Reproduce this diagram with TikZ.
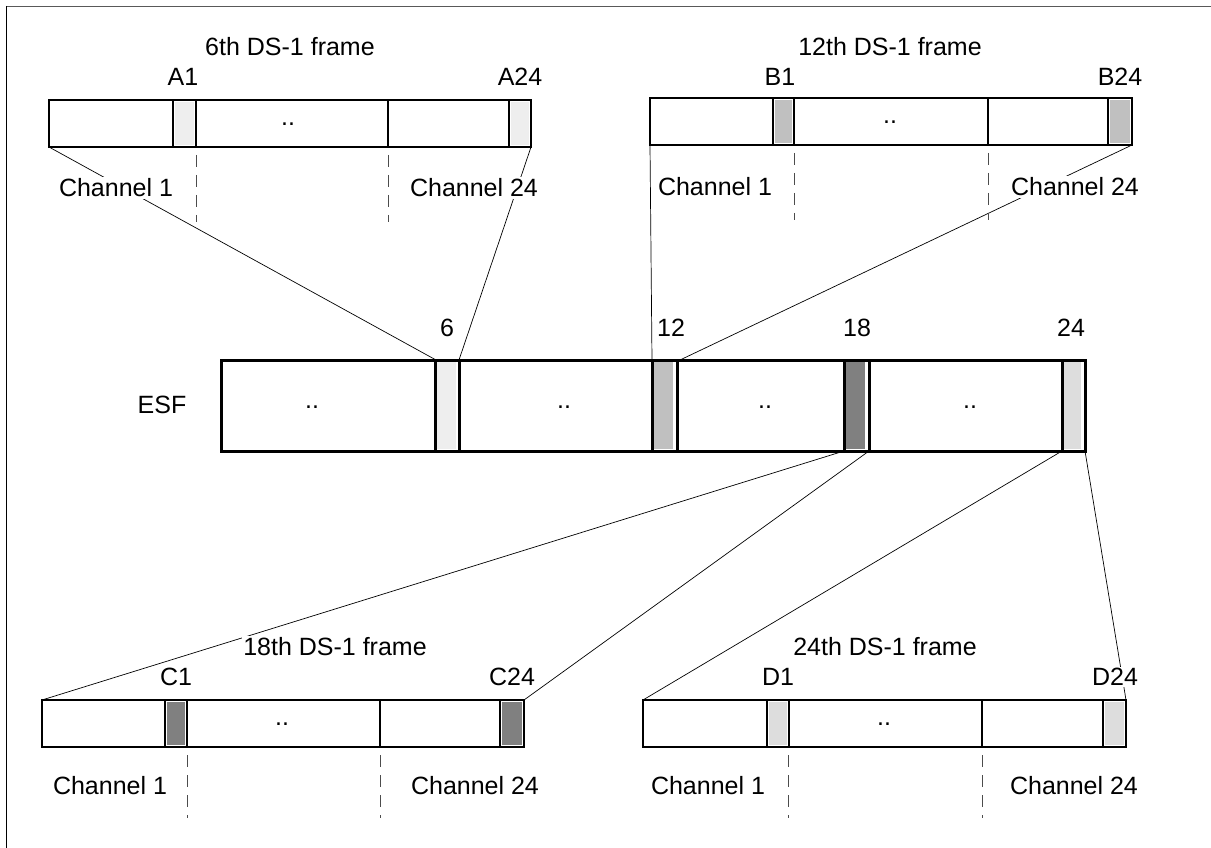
\documentclass[tikz,border=0pt]{standalone}
\usepackage{fontspec}
\setmainfont{Liberation Sans}
\begin{document}
\begin{tikzpicture}[x=1pt,y=-1pt,
  framebox/.style={draw=black, line width=1.5pt},
  esfline/.style={draw=black, line width=3pt},
  conn/.style={draw=black, line width=0.7pt},
  dashln/.style={draw=black!70, line width=0.8pt, dash pattern=on 12pt off 8pt},
  lbl/.style={font=\fontsize{25}{30}\selectfont, fill=white, inner sep=1.5pt},
  dots/.style={font=\fontsize{25}{30}\selectfont, inner sep=0pt}]
\definecolor{gA}{HTML}{EEEEEE}
\definecolor{gB}{HTML}{C0C0C0}
\definecolor{gC}{HTML}{808080}
\definecolor{gD}{HTML}{DDDDDD}
\useasboundingbox (0,0) rectangle (1211,848);
\fill[white] (0,0) rectangle (1211,848);
% page border (top and left only)
\draw[line width=1.2pt, black!65] (6,6.5) -- (1211,6.5);
\draw[line width=1.2pt, black] (6.5,6) -- (6.5,848);

% ---------- named corners ----------
\coordinate (Abl) at (49,147);  \coordinate (Abr) at (531,147);
\coordinate (Bbl) at (650,145); \coordinate (Bbr) at (1132,145);
\coordinate (Ctl) at (42,700);  \coordinate (Ctr) at (524,700);
\coordinate (Dtl) at (643,700); \coordinate (Dtr) at (1126,700);
\coordinate (E6t1) at (436,360);  \coordinate (E6t2) at (459,360);
\coordinate (E12t1) at (652,360); \coordinate (E12t2) at (680,360);
\coordinate (E18b1) at (844,451); \coordinate (E18b2) at (869,451);
\coordinate (E24b1) at (1062,451); \coordinate (E24b2) at (1085,451);

% ---------- connectors ----------
\draw[conn] (Abl) -- (E6t1);
\draw[conn] (Abr) -- (E6t2);
\draw[conn] (Bbl) -- (E12t1);
\draw[conn] (Bbr) -- (E12t2);
\draw[conn] (E18b1) -- (Ctl);
\draw[conn] (E18b2) -- (Ctr);
\draw[conn] (E24b1) -- (Dtl);
\draw[conn] (E24b2) -- (Dtr);

% ---------- dashed guides ----------
\draw[dashln] (196,155) -- (196,222);
\draw[dashln] (388,155) -- (388,222);
\draw[dashln] (794,153) -- (794,220);
\draw[dashln] (988,153) -- (988,220);
\draw[dashln] (187,755) -- (187,818);
\draw[dashln] (380,755) -- (380,818);
\draw[dashln] (788,755) -- (788,818);
\draw[dashln] (982,755) -- (982,818);

% ---------- frame A ----------
\fill[white] (49,100) rectangle (531,147);
\fill[gA] (175,102) rectangle (194,145);
\fill[gA] (511,102) rectangle (529,145);
\draw[framebox] (49,100) rectangle (531,147);
\draw[framebox] (173,100) -- (173,147) (196,100) -- (196,147) (388,100) -- (388,147) (509,100) -- (509,147);
\node[dots] (Adots) at (288,124) {..};

% ---------- frame B ----------
\fill[white] (650,98) rectangle (1132,145);
\fill[gB] (775,100) rectangle (792,143);
\fill[gB] (1110,100) rectangle (1130,143);
\draw[framebox] (650,98) rectangle (1132,145);
\draw[framebox] (773,98) -- (773,145) (794,98) -- (794,145) (988,98) -- (988,145) (1108,98) -- (1108,145);
\node[dots] (Bdots) at (890,122) {..};

% ---------- ESF ----------
\fill[white] (221,360) rectangle (1085,451);
\fill[gA] (437,362) rectangle (456,449);
\fill[gB] (654,362) rectangle (673,449);
\fill[gC] (846,362) rectangle (865,449);
\fill[gD] (1064,362) rectangle (1081,449);
\draw[esfline] (221,360) rectangle (1085,451);
\draw[esfline] (435,360) -- (435,451) (459,360) -- (459,451)
                (652,360) -- (652,451) (677,360) -- (677,451)
                (844,360) -- (844,451) (869,360) -- (869,451)
                (1062,360) -- (1062,451);
\node[dots] (E1dots) at (312,407) {..};
\node[dots] (E2dots) at (564,407) {..};
\node[dots] (E3dots) at (765,407) {..};
\node[dots] (E4dots) at (970,407) {..};

% ---------- frame C ----------
\fill[white] (42,700) rectangle (524,747);
\fill[gC] (167,702) rectangle (185,745);
\fill[gC] (502,702) rectangle (522,745);
\draw[framebox] (42,700) rectangle (524,747);
\draw[framebox] (165,700) -- (165,747) (187,700) -- (187,747) (380,700) -- (380,747) (500,700) -- (500,747);
\node[dots] (Cdots) at (282,724) {..};

% ---------- frame D ----------
\fill[white] (643,700) rectangle (1126,747);
\fill[gD] (769,702) rectangle (787,745);
\fill[gD] (1105,702) rectangle (1124,745);
\draw[framebox] (643,700) rectangle (1126,747);
\draw[framebox] (767,700) -- (767,747) (789,700) -- (789,747) (982,700) -- (982,747) (1103,700) -- (1103,747);
\node[dots] (Ddots) at (884,724) {..};

% ---------- labels ----------
\node[lbl] (tA) at (290,47) {6th DS-1 frame};
\node[lbl] (lA1) at (183,77) {A1};
\node[lbl] (lA24) at (520,77) {A24};
\node[lbl] (chA1) at (116,188) {Channel 1};
\node[lbl] (chA24) at (474,188) {Channel 24};

\node[lbl] (tB) at (890,47) {12th DS-1 frame};
\node[lbl] (lB1) at (780,77) {B1};
\node[lbl] (lB24) at (1120,77) {B24};
\node[lbl] (chB1) at (715,187) {Channel 1};
\node[lbl] (chB24) at (1075,187) {Channel 24};

\node[lbl] (esf) at (162,405) {ESF};
\node[lbl] (n6) at (447,328) {6};
\node[lbl] (n12) at (671,328) {12};
\node[lbl] (n18) at (857,328) {18};
\node[lbl] (n24) at (1071,328) {24};

\node[lbl] (tC) at (335,647) {18th DS-1 frame};
\node[lbl] (lC1) at (176,677) {C1};
\node[lbl] (lC24) at (512,677) {C24};
\node[lbl] (chC1) at (110,786) {Channel 1};
\node[lbl] (chC24) at (475,786) {Channel 24};

\node[lbl] (tD) at (885,647) {24th DS-1 frame};
\node[lbl] (lD1) at (778,677) {D1};
\node[lbl] (lD24) at (1115,677) {D24};
\node[lbl] (chD1) at (708,786) {Channel 1};
\node[lbl] (chD24) at (1074,786) {Channel 24};
\end{tikzpicture}
\end{document}
